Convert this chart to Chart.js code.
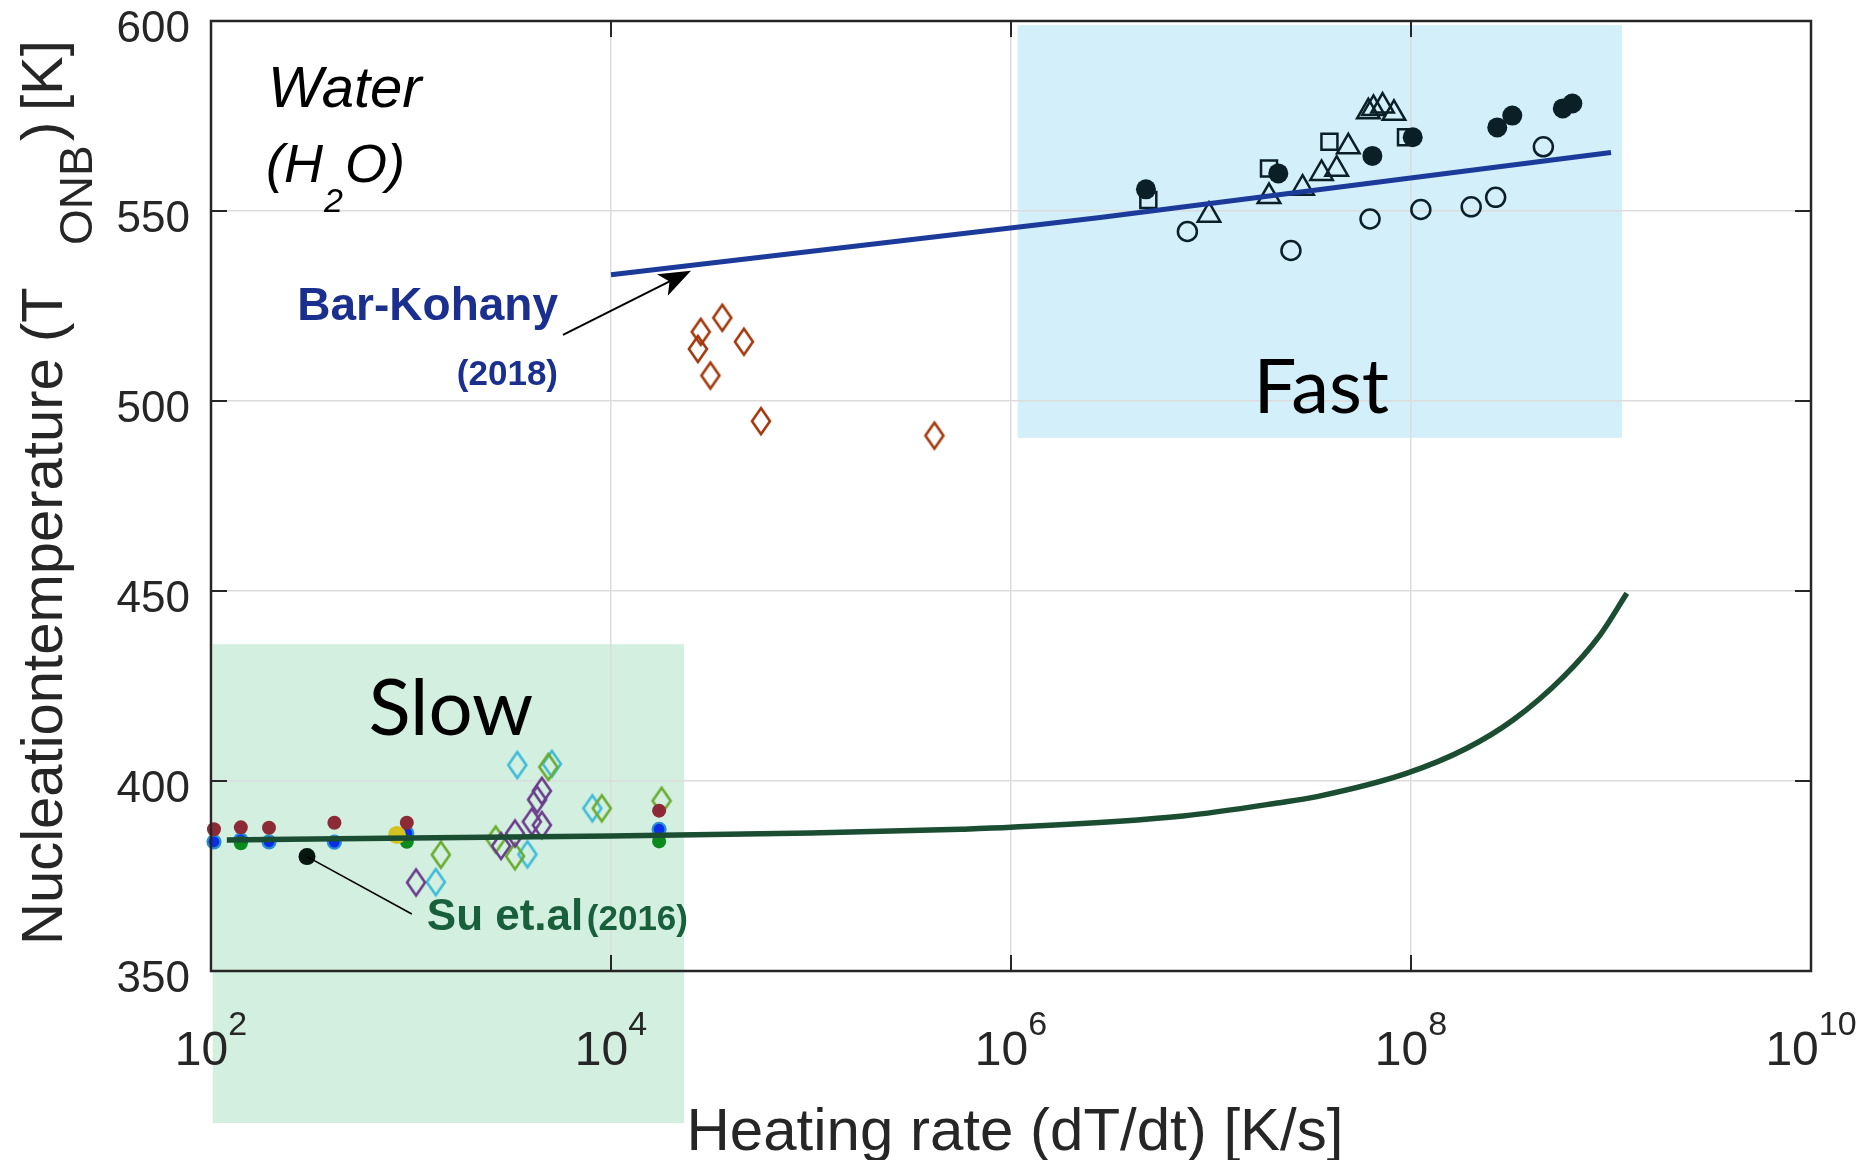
<!DOCTYPE html>
<html>
<head>
<meta charset="utf-8">
<script src="https://cdn.jsdelivr.net/npm/chart.js@4.4.1/dist/chart.umd.min.js"></script>
<style>
  html, body { margin: 0; padding: 0; background: #fff; }
  #wrap { width: 1860px; height: 1160px; }
</style>
</head>
<body>
<div id="wrap"><canvas id="chart" width="1860" height="1160"></canvas></div>
<script>
// heating rate [K/s] and nucleation temperature [K], one pair of arrays per marker group

// fast heating (pulse) experiments
const fastSolidRate = [4.73e6, 2.17e7, 6.41e7, 1.02e8, 2.70e8, 3.21e8, 5.74e8, 6.41e8];
const fastSolidTemp = [555.7, 559.9, 564.5, 569.4, 572.0, 575.1, 577.0, 578.3];
const fastOpenRate = [7.62e6, 2.51e7, 6.24e7, 1.12e8, 2.0e8, 2.65e8, 4.59e8];
const fastOpenTemp = [544.6, 539.6, 547.9, 550.4, 551.1, 553.6, 566.9];
const fastSquareRate = [4.86e6, 1.95e7, 3.91e7, 9.44e7];
const fastSquareTemp = [552.9, 561.2, 568.2, 569.4];
const fastTriRate = [9.77e6, 1.95e7, 2.87e7, 3.57e7, 4.25e7, 4.86e7, 6.12e7, 6.49e7, 7.21e7, 8.22e7];
const fastTriTemp = [548.9, 553.8, 556.0, 559.9, 561.0, 566.9, 576.1, 577.0, 577.6, 575.7];

// intermediate rates
const midRate = [3.60e4, 2.81e4, 2.72e4, 4.62e4, 3.14e4, 5.62e4, 4.14e5];
const midTemp = [521.9, 518.2, 513.7, 515.6, 506.7, 494.7, 490.9];

// slow heating, filled circles
const slowRate = [103.5, 141, 195, 414, 953, 1.74e4];
const slowRedTemp = [387.3, 387.8, 387.7, 389.0, 389.0, 392.2];
const slowBlueTemp = [384.0, 384.5, 384.0, 383.9, 386.2, 387.3];
const slowGreenRate = [141, 953, 1.74e4];
const slowGreenTemp = [383.6, 384.0, 384.1];
const slowYellowRate = [851];
const slowYellowTemp = [385.8];
const suPointRate = [302];
const suPointTemp = [380.1];

// slow heating, open diamonds
const cyanRate = [3.40e3, 5.06e3, 8.07e3, 3.82e3, 1.33e3];
const cyanTemp = [404.2, 404.5, 392.8, 380.7, 373.4];
const limeRate = [4.86e3, 8.99e3, 1.79e4, 2.65e3, 3.31e3, 1.41e3];
const limeTemp = [403.7, 392.8, 394.8, 384.6, 380.2, 380.6];
const purpleRate = [4.51e3, 4.27e3, 4.02e3, 4.51e3, 3.31e3, 2.82e3, 1.06e3];
const purpleTemp = [397.4, 395.1, 389.3, 388.4, 386.2, 382.9, 373.3];

// model curves
const barKohanyRate = [1e4, 2.79e6, 1e9];
const barKohanyTemp = [533.2, 548.3, 565.4];
const suRate = [120, 1e3, 1e4, 1e5, 5.62e5, 1e6, 7.24e6, 2.21e7, 3.39e7, 9.48e7, 1.90e8, 3.25e8, 5.78e8, 8.81e8, 1.20e9];
const suTemp = [384.5, 385.0, 385.5, 386.3, 387.3, 387.8, 390.8, 394.3, 395.9, 402.0, 408.6, 416.1, 427.4, 438.4, 449.4];

// axes
const xTickExp = [2, 4, 6, 8, 10];
const yTickValues = [350, 400, 450, 500, 550, 600];

const pts = (xs, ys) => xs.map((x, i) => ({ x, y: ys[i] }));

const SANS = '"Liberation Sans", Arial, sans-serif';

function diamond(color) {
  const c = document.createElement('canvas');
  c.width = 24; c.height = 32;
  const g = c.getContext('2d');
  g.strokeStyle = color;
  g.lineWidth = 2.6;
  g.beginPath();
  g.moveTo(12, 3); g.lineTo(21, 16); g.lineTo(12, 29); g.lineTo(3, 16);
  g.closePath();
  g.stroke();
  return c;
}

const ink = '#0b1f27';

function markers(data, style) {
  return Object.assign({ type: 'scatter', data, clip: false, order: 2, pointHoverRadius: 0 }, style);
}

const datasets = [
  { type: 'line', data: pts(suRate, suTemp), showLine: true, borderColor: '#1b4d33', borderWidth: 5.5,
    pointRadius: 0, cubicInterpolationMode: 'monotone', fill: false, order: 0, clip: false },
  { type: 'line', data: pts(barKohanyRate, barKohanyTemp), showLine: true, borderColor: '#1b3a9a', borderWidth: 5,
    pointRadius: 0, tension: 0, fill: false, order: 0, clip: false },

  markers(pts(fastOpenRate, fastOpenTemp), { pointStyle: 'circle', pointRadius: 9.5, borderWidth: 2.5,
    borderColor: ink, backgroundColor: 'rgba(0,0,0,0)' }),
  markers(pts(fastSquareRate, fastSquareTemp), { pointStyle: 'rect', pointRadius: 11.3, borderWidth: 2.5,
    borderColor: ink, backgroundColor: 'rgba(0,0,0,0)' }),
  markers(pts(fastTriRate, fastTriTemp), { pointStyle: 'triangle', pointRadius: 13, borderWidth: 2.5,
    borderColor: ink, backgroundColor: 'rgba(0,0,0,0)' }),
  markers(pts(fastSolidRate, fastSolidTemp), { pointStyle: 'circle', pointRadius: 10, borderWidth: 0,
    backgroundColor: ink }),

  markers(pts(midRate, midTemp), { pointStyle: diamond('#a3380c') }),

  markers(pts(slowRate, slowRedTemp), { pointStyle: 'circle', pointRadius: 7, borderWidth: 0, backgroundColor: '#8c2b35' }),
  markers(pts(slowYellowRate, slowYellowTemp), { pointStyle: 'circle', pointRadius: 9, borderWidth: 0, backgroundColor: '#d6c21e' }),
  markers(pts(slowGreenRate, slowGreenTemp), { pointStyle: 'circle', pointRadius: 7, borderWidth: 0, backgroundColor: '#0b8a1e' }),
  markers(pts(slowRate, slowBlueTemp), { pointStyle: 'circle', pointRadius: 6.5, borderWidth: 2.2,
    borderColor: '#2a8fd0', backgroundColor: '#0a2ee8' }),
  markers(pts(suPointRate, suPointTemp), { pointStyle: 'circle', pointRadius: 8.5, borderWidth: 0, backgroundColor: '#06170f' }),

  markers(pts(purpleRate, purpleTemp), { pointStyle: diamond('#6b3d8c') }),
  markers(pts(limeRate, limeTemp), { pointStyle: diamond('#6aab2f') }),
  markers(pts(cyanRate, cyanTemp), { pointStyle: diamond('#3fbcd8') })
];

// shaded regimes, in data units (slow box runs down past the axis)
const regimes = [
  { x0: 1.08e6, x1: 1.135e9, y0: 490.3, y1: 598.9, color: '#d2effa' },
  { x0: 102, x1: 2.32e4, y0: 310, y1: 436, color: '#d3efe0' }
];

const decor = {
  id: 'decor',
  beforeDraw(chart) {
    const { ctx, scales: { x, y } } = chart;
    ctx.save();
    regimes.forEach(r => {
      const x0 = x.getPixelForValue(r.x0), x1 = x.getPixelForValue(r.x1);
      const y0 = y.getPixelForValue(r.y0), y1 = y.getPixelForValue(r.y1);
      ctx.fillStyle = r.color;
      ctx.fillRect(x0, y1, x1 - x0, y0 - y1);
    });
    ctx.restore();
  },
  afterDatasetsDraw(chart) {
    const { ctx, chartArea: { left, right, top, bottom }, scales: { x, y } } = chart;
    const at = (lx, t) => [x.getPixelForValue(Math.pow(10, lx)), y.getPixelForValue(t)];
    const line = (x0, y0, x1, y1) => { ctx.beginPath(); ctx.moveTo(x0, y0); ctx.lineTo(x1, y1); ctx.stroke(); };

    ctx.save();
    // frame and inward ticks
    ctx.strokeStyle = '#262626';
    ctx.lineWidth = 2.5;
    ctx.strokeRect(left, top, right - left, bottom - top);
    ctx.lineWidth = 2;
    xTickExp.forEach(e => {
      const px = x.getPixelForValue(Math.pow(10, e));
      line(px, bottom, px, bottom - 16);
      line(px, top, px, top + 16);
    });
    yTickValues.forEach(v => {
      const py = y.getPixelForValue(v);
      line(left, py, left + 16, py);
      line(right, py, right - 16, py);
    });

    // tick labels
    ctx.fillStyle = '#262626';
    ctx.textBaseline = 'alphabetic';
    ctx.textAlign = 'right';
    ctx.font = '44px ' + SANS;
    yTickValues.forEach(v => ctx.fillText(String(v), left - 21, y.getPixelForValue(v) + 21));
    ctx.textAlign = 'left';
    xTickExp.forEach(e => {
      const px = x.getPixelForValue(Math.pow(10, e));
      ctx.font = '48px ' + SANS;
      const w1 = ctx.measureText('10').width;
      ctx.font = '34px ' + SANS;
      const w2 = ctx.measureText(String(e)).width;
      const x0 = px - (w1 + w2) / 2;
      ctx.font = '48px ' + SANS;
      ctx.fillText('10', x0, bottom + 94);
      ctx.font = '34px ' + SANS;
      ctx.fillText(String(e), x0 + w1, bottom + 64);
    });

    // axis titles
    ctx.textAlign = 'center';
    ctx.font = '60px ' + SANS;
    ctx.fillText('Heating rate (dT/dt) [K/s]', 1015, 1150);

    // rotated y title, subscript ONB sits below the baseline
    ctx.save();
    ctx.translate(62, 945);
    ctx.rotate(-Math.PI / 2);
    ctx.textAlign = 'left';
    ctx.font = '58px ' + SANS;
    ctx.fillText('Nucleationtemperature (T', 0, 0);
    ctx.font = '46px ' + SANS;
    ctx.fillText('ONB', 700, 30);
    ctx.font = '58px ' + SANS;
    ctx.fillText(')', 804, 0);
    ctx.fillText('[K]', 834, 0);
    ctx.restore();

    // fluid label
    ctx.fillStyle = '#000';
    ctx.textAlign = 'left';
    ctx.font = 'italic 58px ' + SANS;
    let [tx, ty] = at(2.285, 577.4);
    ctx.fillText('Water', tx, ty);
    [tx, ty] = at(2.275, 557.6);
    ctx.font = 'italic 54px ' + SANS;
    ctx.fillText('(H', tx, ty);
    tx += ctx.measureText('(H').width + 1;
    ctx.font = 'italic 34px ' + SANS;
    ctx.fillText('2', tx, ty + 30);
    tx += ctx.measureText('2').width + 2;
    ctx.font = 'italic 54px ' + SANS;
    ctx.fillText('O)', tx, ty);

    // regime labels
    ctx.font = '76px Lato, ' + SANS;
    ctx.fillText('Fast', ...at(7.213, 496.8));
    ctx.font = '78px Lato, ' + SANS;
    ctx.fillText('Slow', ...at(2.787, 412.1));

    // Bar-Kohany label and arrow
    ctx.fillStyle = '#1b2f8e';
    ctx.textAlign = 'right';
    ctx.font = 'bold 46px ' + SANS;
    ctx.fillText('Bar-Kohany', ...at(3.735, 521.3));
    ctx.font = 'bold 35px ' + SANS;
    ctx.fillText('(2018)', ...at(3.735, 504.2));

    const [ax0, ay0] = at(3.76, 517.4);
    const [ax1, ay1] = at(4.40, 534.3);
    const ang = Math.atan2(ay1 - ay0, ax1 - ax0);
    ctx.strokeStyle = '#000';
    ctx.fillStyle = '#000';
    ctx.lineWidth = 2;
    line(ax0, ay0, ax1 - 20 * Math.cos(ang), ay1 - 20 * Math.sin(ang));
    ctx.beginPath();
    ctx.moveTo(ax1, ay1);
    ctx.lineTo(ax1 - 32 * Math.cos(ang) + 12 * Math.sin(ang), ay1 - 32 * Math.sin(ang) - 12 * Math.cos(ang));
    ctx.lineTo(ax1 - 24 * Math.cos(ang), ay1 - 24 * Math.sin(ang));
    ctx.lineTo(ax1 - 32 * Math.cos(ang) - 12 * Math.sin(ang), ay1 - 32 * Math.sin(ang) + 12 * Math.cos(ang));
    ctx.closePath();
    ctx.fill();

    // Su et al. label with leader
    ctx.lineWidth = 1.6;
    const [lx0, ly0] = at(Math.log10(suPointRate[0]), suPointTemp[0]);
    const [lx1, ly1] = at(3.004, 365.0);
    line(lx0, ly0, lx1, ly1);
    ctx.fillStyle = '#18603b';
    ctx.textAlign = 'left';
    ctx.font = 'bold 44px ' + SANS;
    ctx.fillText('Su et.al', ...at(3.079, 360.8));
    ctx.font = 'bold 35px ' + SANS;
    ctx.fillText('(2016)', ...at(3.879, 360.8));
    ctx.restore();
  }
};

const grid = { color: '#dcdcdc', lineWidth: 1.5, drawTicks: false };

new Chart(document.getElementById('chart'), {
  type: 'scatter',
  data: { datasets },
  options: {
    responsive: false,
    animation: false,
    devicePixelRatio: 1,
    events: [],
    layout: { padding: { left: 211, right: 49, top: 21, bottom: 189 } },
    plugins: { legend: { display: false }, tooltip: { enabled: false } },
    scales: {
      x: {
        type: 'logarithmic', min: 1e2, max: 1e10,
        afterBuildTicks: s => { s.ticks = xTickExp.map(e => ({ value: Math.pow(10, e) })); },
        afterFit: s => { s.height = 0; },
        ticks: { display: false },
        grid, border: { display: false }
      },
      y: {
        min: 350, max: 600,
        afterBuildTicks: s => { s.ticks = yTickValues.map(v => ({ value: v })); },
        afterFit: s => { s.width = 0; },
        ticks: { display: false },
        grid, border: { display: false }
      }
    }
  },
  plugins: [decor]
});
</script>
</body>
</html>
